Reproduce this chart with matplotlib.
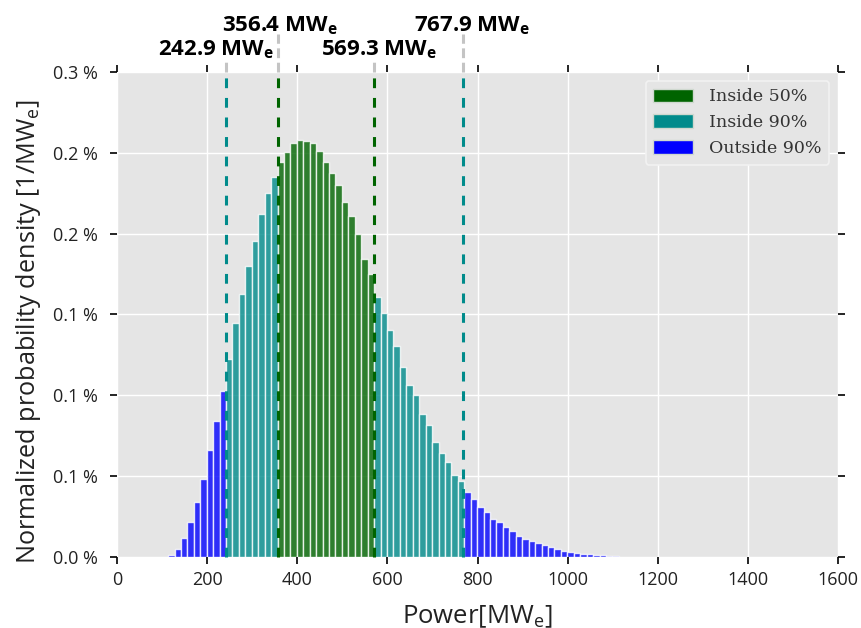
import numpy as np
import matplotlib
matplotlib.use("Agg")
import matplotlib.pyplot as plt
from matplotlib.patches import Patch
import matplotlib.transforms as mtransforms

# ---------------- data ----------------
bin_start = 113.3          # MW_e, left edge of first bin
bin_width = 14.29          # MW_e
# normalized probability density per bin, in units of 1e-3 / MW_e
density_e3 = [
    0.011, 0.050, 0.116, 0.215, 0.342, 0.483, 0.662, 0.841, 1.027, 1.225,
    1.449, 1.625, 1.800, 1.957, 2.122, 2.253, 2.352, 2.441, 2.507, 2.559,
    2.578, 2.573, 2.559, 2.513, 2.441, 2.373, 2.301, 2.198, 2.109, 1.996,
    1.843, 1.751, 1.610, 1.511, 1.404, 1.305, 1.173, 1.066, 1.000, 0.886,
    0.815, 0.710, 0.641, 0.588, 0.507, 0.470, 0.402, 0.359, 0.309, 0.278,
    0.237, 0.218, 0.184, 0.159, 0.132, 0.111, 0.099, 0.087, 0.072, 0.060,
    0.051, 0.039, 0.031, 0.025, 0.020, 0.019, 0.012, 0.012, 0.008, 0.006,
]
# quantile boundaries: 5%, 25%, 75%, 95%
q_values = [242.9, 356.4, 569.3, 767.9]
q_labels = ["242.9 MW$_\\mathbf{e}$", "356.4 MW$_\\mathbf{e}$",
            "569.3 MW$_\\mathbf{e}$", "767.9 MW$_\\mathbf{e}$"]
legend_labels = ["Inside 50%", "Inside 90%", "Outside 90%"]
x_ticks = [0, 200, 400, 600, 800, 1000, 1200, 1400, 1600]
y_ticks = [0.0, 0.0005, 0.0010, 0.0015, 0.0020, 0.0025, 0.0030]
y_tick_labels = ["0.0 %", "0.1 %", "0.1 %", "0.1 %", "0.2 %", "0.2 %", "0.3 %"]

# ---------------- style ----------------
plt.rcParams["mathtext.fontset"] = "custom"
plt.rcParams["mathtext.rm"] = "Open Sans"
plt.rcParams["mathtext.bf"] = "Open Sans:bold"
plt.rcParams["font.family"] = ["Open Sans", "DejaVu Sans"]

c_50 = "darkgreen"
c_90 = "darkcyan"
c_out = "blue"
line_colors = [c_90, c_50, c_50, c_90]
label_dx = [-23, 4, 13, 21]          # MW offset of label centres
label_y = [1.035, 1.083, 1.035, 1.083]  # axes fraction baselines
gray_top = [1.029, 1.079, 1.029, 1.079]

fig = plt.figure(figsize=(8.61, 6.28), dpi=100)
ax = fig.add_axes([0.1359, 0.1131, 0.8374, 0.7723])
ax.set_facecolor("#e5e5e5")
for s in ax.spines.values():
    s.set_visible(False)
ax.grid(True, color="white", lw=1.0)
ax.set_axisbelow(True)

dens = np.array(density_e3) * 1e-3
edges = bin_start + bin_width * np.arange(len(dens) + 1)
centers = 0.5 * (edges[:-1] + edges[1:])
colors = []
for c in centers:
    if q_values[1] <= c <= q_values[2]:
        colors.append(c_50)
    elif q_values[0] <= c <= q_values[3]:
        colors.append(c_90)
    else:
        colors.append(c_out)
ax.bar(edges[:-1], dens, width=bin_width, align="edge", color=colors,
       alpha=0.8, edgecolor="white", linewidth=1.0, zorder=2)

trans = mtransforms.blended_transform_factory(ax.transData, ax.transAxes)
for q, lab, col, dx, ly, gt in zip(q_values, q_labels, line_colors,
                                   label_dx, label_y, gray_top):
    ax.plot([q, q], [0, 1], transform=trans, color=col, lw=2.2,
            ls=(0, (3.2, 3.2)), zorder=3, clip_on=False)
    ax.plot([q, q], [1.0, gt], transform=trans, color="#c4c4c4", lw=2.2,
            ls=(0, (3.2, 1.5)), zorder=3, clip_on=False)
    ax.text(q + dx, ly, lab, transform=trans, ha="center", va="baseline",
            fontsize=16, fontweight="bold", color="black")

ax.set_xlim(0, 1600)
ax.set_ylim(0, 0.003)
ax.set_xticks(x_ticks)
ax.set_yticks(y_ticks)
ax.set_yticklabels(y_tick_labels)
ax.tick_params(direction="out", length=5, width=1.2, color="black",
               top=True, right=True, labelsize=13, labelcolor="#222222")
ax.tick_params(axis="y", pad=9)
ax.tick_params(axis="x", pad=5)

ax.set_xlabel("Power[MW$_\\mathrm{e}$]", fontsize=18.5, color="#222222")
ax.xaxis.set_label_coords(0.50, -0.095)
ax.set_ylabel("Normalized probability density [1/MW$_\\mathrm{e}$]",
              fontsize=18.2, color="#222222")
ax.yaxis.set_label_coords(-0.103, 0.464)

handles = [Patch(facecolor=c_50, edgecolor="#cfd8cf"),
           Patch(facecolor=c_90, edgecolor="#cfd8cf"),
           Patch(facecolor=c_out, edgecolor="#cfd8cf")]
leg = ax.legend(handles, legend_labels, loc="upper right",
                prop={"family": "DejaVu Serif", "size": 12.5},
                facecolor="#e5e5e5", edgecolor="#f2f2f2", framealpha=1.0,
                handlelength=2.3, handleheight=0.85, labelspacing=0.5,
                borderpad=0.45, handletextpad=0.9)
for t in leg.get_texts():
    t.set_color("#333333")
leg.get_frame().set_linewidth(1.2)

fig.savefig("out.png", dpi=100)
